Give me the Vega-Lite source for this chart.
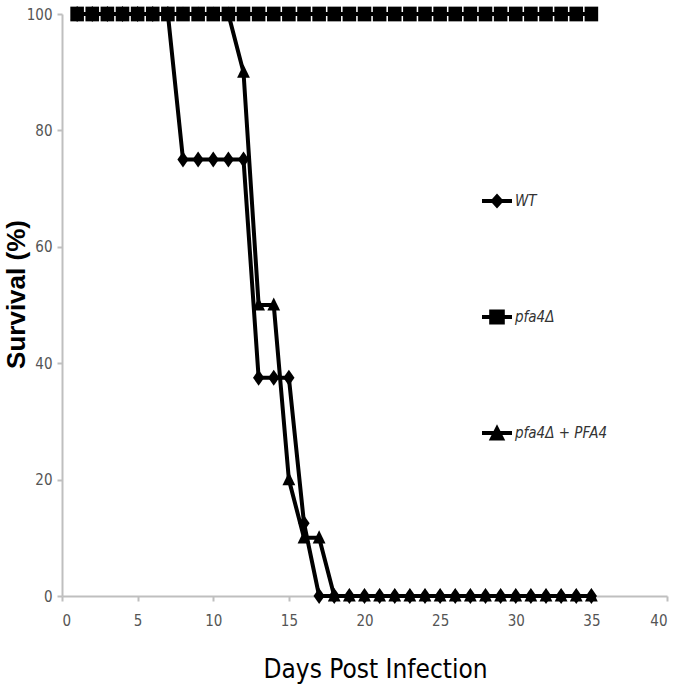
{
  "$schema": "https://vega.github.io/schema/vega-lite/v6.json",
  "width": 605,
  "height": 582,
  "autosize": {"type": "none"},
  "padding": {"left": 62, "top": 14, "right": 13, "bottom": 90},
  "background": "white",
  "config": {
    "view": {"stroke": null},
    "axis": {"grid": false, "domainColor": "#bfbfbf", "tickColor": "#bfbfbf", "domainWidth": 2, "tickWidth": 2, "labelColor": "#555555", "labelFont": "Liberation Sans Narrow, DejaVu Sans Condensed, sans-serif", "labelFontSize": 15, "titleColor": "#000000"}
  },
  "data": {"values": [
    {"series": "WT", "day": 1, "survival": 100},
    {"series": "WT", "day": 2, "survival": 100},
    {"series": "WT", "day": 3, "survival": 100},
    {"series": "WT", "day": 4, "survival": 100},
    {"series": "WT", "day": 5, "survival": 100},
    {"series": "WT", "day": 6, "survival": 100},
    {"series": "WT", "day": 7, "survival": 100},
    {"series": "WT", "day": 8, "survival": 75},
    {"series": "WT", "day": 9, "survival": 75},
    {"series": "WT", "day": 10, "survival": 75},
    {"series": "WT", "day": 11, "survival": 75},
    {"series": "WT", "day": 12, "survival": 75},
    {"series": "WT", "day": 13, "survival": 37.5},
    {"series": "WT", "day": 14, "survival": 37.5},
    {"series": "WT", "day": 15, "survival": 37.5},
    {"series": "WT", "day": 16, "survival": 12.5},
    {"series": "WT", "day": 17, "survival": 0},
    {"series": "WT", "day": 18, "survival": 0},
    {"series": "WT", "day": 19, "survival": 0},
    {"series": "WT", "day": 20, "survival": 0},
    {"series": "WT", "day": 21, "survival": 0},
    {"series": "WT", "day": 22, "survival": 0},
    {"series": "WT", "day": 23, "survival": 0},
    {"series": "WT", "day": 24, "survival": 0},
    {"series": "WT", "day": 25, "survival": 0},
    {"series": "WT", "day": 26, "survival": 0},
    {"series": "WT", "day": 27, "survival": 0},
    {"series": "WT", "day": 28, "survival": 0},
    {"series": "WT", "day": 29, "survival": 0},
    {"series": "WT", "day": 30, "survival": 0},
    {"series": "WT", "day": 31, "survival": 0},
    {"series": "WT", "day": 32, "survival": 0},
    {"series": "WT", "day": 33, "survival": 0},
    {"series": "WT", "day": 34, "survival": 0},
    {"series": "WT", "day": 35, "survival": 0},
    {"series": "pfa4Δ + PFA4", "day": 1, "survival": 100},
    {"series": "pfa4Δ + PFA4", "day": 2, "survival": 100},
    {"series": "pfa4Δ + PFA4", "day": 3, "survival": 100},
    {"series": "pfa4Δ + PFA4", "day": 4, "survival": 100},
    {"series": "pfa4Δ + PFA4", "day": 5, "survival": 100},
    {"series": "pfa4Δ + PFA4", "day": 6, "survival": 100},
    {"series": "pfa4Δ + PFA4", "day": 7, "survival": 100},
    {"series": "pfa4Δ + PFA4", "day": 8, "survival": 100},
    {"series": "pfa4Δ + PFA4", "day": 9, "survival": 100},
    {"series": "pfa4Δ + PFA4", "day": 10, "survival": 100},
    {"series": "pfa4Δ + PFA4", "day": 11, "survival": 100},
    {"series": "pfa4Δ + PFA4", "day": 12, "survival": 90},
    {"series": "pfa4Δ + PFA4", "day": 13, "survival": 50},
    {"series": "pfa4Δ + PFA4", "day": 14, "survival": 50},
    {"series": "pfa4Δ + PFA4", "day": 15, "survival": 20},
    {"series": "pfa4Δ + PFA4", "day": 16, "survival": 10},
    {"series": "pfa4Δ + PFA4", "day": 17, "survival": 10},
    {"series": "pfa4Δ + PFA4", "day": 18, "survival": 0},
    {"series": "pfa4Δ + PFA4", "day": 19, "survival": 0},
    {"series": "pfa4Δ + PFA4", "day": 20, "survival": 0},
    {"series": "pfa4Δ + PFA4", "day": 21, "survival": 0},
    {"series": "pfa4Δ + PFA4", "day": 22, "survival": 0},
    {"series": "pfa4Δ + PFA4", "day": 23, "survival": 0},
    {"series": "pfa4Δ + PFA4", "day": 24, "survival": 0},
    {"series": "pfa4Δ + PFA4", "day": 25, "survival": 0},
    {"series": "pfa4Δ + PFA4", "day": 26, "survival": 0},
    {"series": "pfa4Δ + PFA4", "day": 27, "survival": 0},
    {"series": "pfa4Δ + PFA4", "day": 28, "survival": 0},
    {"series": "pfa4Δ + PFA4", "day": 29, "survival": 0},
    {"series": "pfa4Δ + PFA4", "day": 30, "survival": 0},
    {"series": "pfa4Δ + PFA4", "day": 31, "survival": 0},
    {"series": "pfa4Δ + PFA4", "day": 32, "survival": 0},
    {"series": "pfa4Δ + PFA4", "day": 33, "survival": 0},
    {"series": "pfa4Δ + PFA4", "day": 34, "survival": 0},
    {"series": "pfa4Δ + PFA4", "day": 35, "survival": 0},
    {"series": "pfa4Δ", "day": 1, "survival": 100},
    {"series": "pfa4Δ", "day": 2, "survival": 100},
    {"series": "pfa4Δ", "day": 3, "survival": 100},
    {"series": "pfa4Δ", "day": 4, "survival": 100},
    {"series": "pfa4Δ", "day": 5, "survival": 100},
    {"series": "pfa4Δ", "day": 6, "survival": 100},
    {"series": "pfa4Δ", "day": 7, "survival": 100},
    {"series": "pfa4Δ", "day": 8, "survival": 100},
    {"series": "pfa4Δ", "day": 9, "survival": 100},
    {"series": "pfa4Δ", "day": 10, "survival": 100},
    {"series": "pfa4Δ", "day": 11, "survival": 100},
    {"series": "pfa4Δ", "day": 12, "survival": 100},
    {"series": "pfa4Δ", "day": 13, "survival": 100},
    {"series": "pfa4Δ", "day": 14, "survival": 100},
    {"series": "pfa4Δ", "day": 15, "survival": 100},
    {"series": "pfa4Δ", "day": 16, "survival": 100},
    {"series": "pfa4Δ", "day": 17, "survival": 100},
    {"series": "pfa4Δ", "day": 18, "survival": 100},
    {"series": "pfa4Δ", "day": 19, "survival": 100},
    {"series": "pfa4Δ", "day": 20, "survival": 100},
    {"series": "pfa4Δ", "day": 21, "survival": 100},
    {"series": "pfa4Δ", "day": 22, "survival": 100},
    {"series": "pfa4Δ", "day": 23, "survival": 100},
    {"series": "pfa4Δ", "day": 24, "survival": 100},
    {"series": "pfa4Δ", "day": 25, "survival": 100},
    {"series": "pfa4Δ", "day": 26, "survival": 100},
    {"series": "pfa4Δ", "day": 27, "survival": 100},
    {"series": "pfa4Δ", "day": 28, "survival": 100},
    {"series": "pfa4Δ", "day": 29, "survival": 100},
    {"series": "pfa4Δ", "day": 30, "survival": 100},
    {"series": "pfa4Δ", "day": 31, "survival": 100},
    {"series": "pfa4Δ", "day": 32, "survival": 100},
    {"series": "pfa4Δ", "day": 33, "survival": 100},
    {"series": "pfa4Δ", "day": 34, "survival": 100},
    {"series": "pfa4Δ", "day": 35, "survival": 100}
  ]},
  "encoding": {
    "x": {"field": "day", "type": "quantitative", "scale": {"domain": [0, 40], "nice": false},
      "axis": {"values": [0, 5, 10, 15, 20, 25, 30, 35, 40], "tickSize": 5, "labelPadding": 12, "title": "Days Post Infection", "titleFont": "Liberation Sans Narrow, DejaVu Sans Condensed, sans-serif", "titleFontSize": 26, "titleFontWeight": "normal", "titleX": 313, "titleY": 81, "titleBaseline": "alphabetic"}},
    "y": {"field": "survival", "type": "quantitative", "scale": {"domain": [0, 100], "nice": false},
      "axis": {"values": [0, 20, 40, 60, 80, 100], "tickSize": 5, "labelPadding": 5, "title": "Survival (%)", "titleFont": "Liberation Sans, Arial, sans-serif", "titleFontSize": 26, "titleFontWeight": "bold", "titleX": -38, "titleY": 280, "titleBaseline": "alphabetic"}}
  },
  "layer": [
    {
      "mark": {"type": "line", "color": "black", "strokeWidth": 4},
      "encoding": {"detail": {"field": "series"}}
    },
    {
      "mark": {"type": "point", "filled": true, "color": "black", "opacity": 1},
      "encoding": {
        "shape": {"field": "series", "type": "nominal",
          "scale": {"domain": ["WT", "pfa4Δ", "pfa4Δ + PFA4"], "range": ["M0,-1L0.7,0L0,1L-0.7,0Z", "M-0.85,-0.92L0.85,-0.92L0.85,0.92L-0.85,0.92Z", "M0,-0.95L0.8,0.7L-0.8,0.7Z"]},
          "legend": null},
        "size": {"value": 256}
      }
    },
    {
      "mark": {"type": "point", "filled": true, "color": "black", "opacity": 0},
      "encoding": {
        "shape": {"field": "series", "type": "nominal",
          "scale": {"domain": ["WT", "pfa4Δ", "pfa4Δ + PFA4"], "range": ["M-1,-0.13L1,-0.13L1,0.13L-1,0.13Z M0,-0.5L0.45,0L0,0.5L-0.45,0Z", "M-1,-0.13L1,-0.13L1,0.13L-1,0.13Z M-0.52,-0.5L0.52,-0.5L0.52,0.5L-0.52,0.5Z", "M-1,-0.13L1,-0.13L1,0.13L-1,0.13Z M0,-0.58L0.55,0.5L-0.55,0.5Z"]},
          "legend": {
            "orient": "none", "legendX": 420, "legendY": 172, "title": null,
            "padding": 0, "rowPadding": 93, "symbolSize": 900, "symbolFillColor": "black", "symbolStrokeWidth": 0, "symbolOpacity": 1,
            "labelFont": "Liberation Sans Narrow, DejaVu Sans Condensed, sans-serif", "labelFontSize": 15, "labelFontStyle": "italic", "labelColor": "#333333", "labelOffset": 3
          }},
        "size": {"value": 1}
      }
    }
  ],
  "resolve": {"scale": {"shape": "independent"}, "legend": {"shape": "independent"}}
}
